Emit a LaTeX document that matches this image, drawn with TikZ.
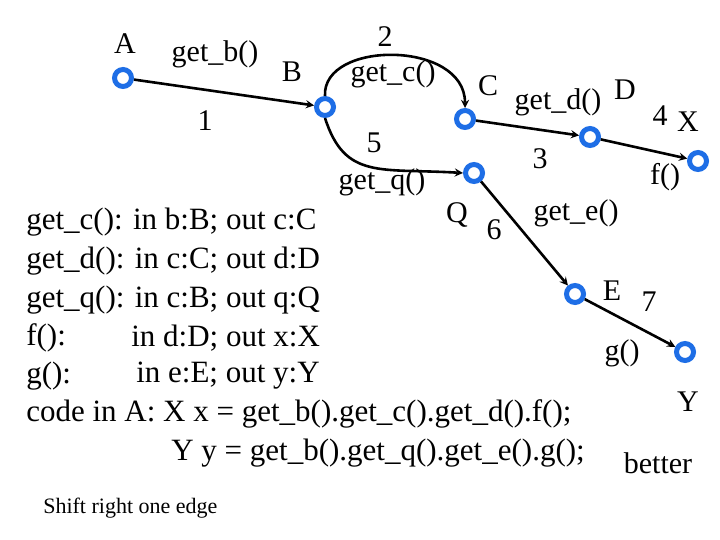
\documentclass[tikz,border=0pt]{standalone}
\usepackage{fontspec}
\setmainfont{Liberation Serif}
\usetikzlibrary{arrows}
\definecolor{vertexblue}{RGB}{30,110,230}
\definecolor{vertexrim}{RGB}{20,60,170}
\tikzset{
  every vertex/.style={circle, draw=vertexblue, line width=5pt, fill=white, inner sep=0pt, minimum size=17pt},
  every label/.style={font=\fontsize{30}{34}\selectfont, inner sep=0pt},
  code line/.style={anchor=west, font=\fontsize{31}{36}\selectfont, inner sep=0pt}
}
\begin{document}
\begin{tikzpicture}[x=1pt, y=-1pt, >=stealth, line width=2.6pt]
\useasboundingbox (0,0) rectangle (720,540);

% vertices
\foreach \n/\x/\y in {A/123/78, B/325/107, C/465/119, D/590/137, X/698/161, Q/474/173, E/575/294, Y/685/352}
  \node [every vertex] (\n) at (\x,\y) {};

% edges
\draw [->] (A) -- (B);
\draw [->] (B.north) .. controls (322,40) and (465,40) .. (C.north);
\draw [->] (B.south) .. controls (345,180) and (380,168) .. (Q.west);
\draw [->] (C) -- (D);
\draw [->] (D) -- (X);
\draw [->] (Q) -- (E);
\draw [->] (E) -- (Y);

% labels
\foreach \t/\x/\y in {A/125/44, get\_b()/215/54, B/292/72, 1/205/121, 2/385/37,
  get\_c()/393/74, C/488/86, get\_d()/558/102, D/625/90, 4/660/116, X/688/122,
  5/374/143, 3/540/159, f()/665/177, get\_q()/382/182, Q/457/215, 6/494/230,
  get\_e()/576/213, E/612/291, 7/649/302, g()/622/353, Y/688/402}
  \node [every label] (lbl-\x) at (\x,\y) {\t};

% code text
\node [code line] (c1) at (25,222) {get\_c(): in b:B; out c:C};
\node [code line] (c2) at (25,261) {get\_d(): in c:C; out d:D};
\node [code line] (c3) at (25,300) {get\_q(): in c:B; out q:Q};
\node [code line] (c4) at (25,338) {f():};
\node [code line] (c4b) at (130,338) {in d:D; out x:X};
\node [code line] (c5) at (25,376) {g():};
\node [code line] (c5b) at (135,376) {in e:E; out y:Y};
\node [code line] (c6) at (25,414) {code in A: X x = get\_b().get\_c().get\_d().f();};
\node [code line] (c7) at (170,453) {Y y = get\_b().get\_q().get\_e().g();};
\node [every label] (better) at (658,463) {better};
\node [code line, font=\fontsize{22}{26}\selectfont] (shift) at (42,508) {Shift right one edge};
\end{tikzpicture}
\end{document}
